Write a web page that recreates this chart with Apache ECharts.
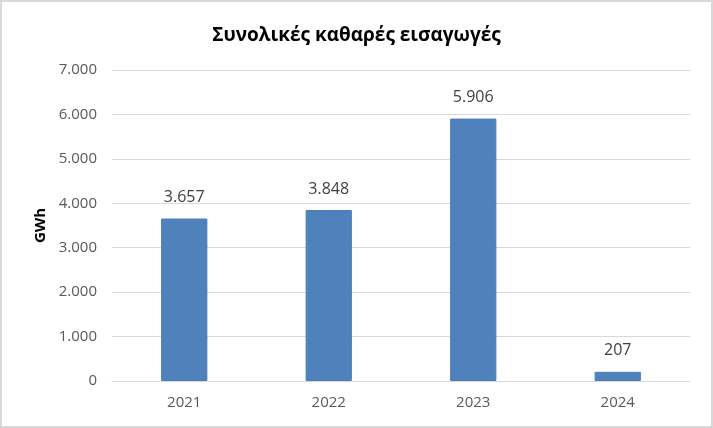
<!DOCTYPE html>
<html>
<head>
<meta charset="utf-8">
<script src="https://cdn.jsdelivr.net/npm/echarts@6/dist/echarts.min.js"></script>
<style>
html,body{margin:0;padding:0;background:#fff;}
#c{width:713px;height:428px;box-sizing:border-box;border:2px solid #D9D9D9;}
</style>
</head>
<body>
<div id="c"></div>
<script>
const categories = ['2021', '2022', '2023', '2024'];
const values = [3657, 3848, 5906, 207];
const yTicks = { min: 0, max: 7000, interval: 1000 };
const titleText = 'Συνολικές καθαρές εισαγωγές';
const yName = 'GWh';

function fmt(v) {
  return String(v).replace(/\B(?=(\d{3})+(?!\d))/g, '.');
}

const chart = echarts.init(document.getElementById('c'), null, { renderer: 'canvas' });
chart.setOption({
  animation: false,
  backgroundColor: '#fff',
  title: {
    text: titleText,
    left: 'center',
    top: 19,
    textStyle: { fontFamily: 'Open Sans', fontSize: 19, fontWeight: 'bold', color: '#000' }
  },
  grid: { left: 110, right: 21, top: 68, bottom: 45 },
  xAxis: {
    type: 'category',
    data: categories,
    axisLine: { lineStyle: { color: '#D9D9D9', width: 1 } },
    axisTick: { show: false },
    axisLabel: { color: '#595959', fontFamily: 'Open Sans', fontSize: 15, margin: 14 }
  },
  yAxis: {
    type: 'value',
    min: yTicks.min,
    max: yTicks.max,
    interval: yTicks.interval,
    name: yName,
    nameLocation: 'middle',
    nameGap: 62,
    nameRotate: 90,
    nameTextStyle: { fontFamily: 'Open Sans', fontSize: 15, fontWeight: 'bold', color: '#000' },
    axisLine: { show: false },
    axisTick: { show: false },
    splitLine: { lineStyle: { color: '#D9D9D9', width: 1 } },
    axisLabel: { color: '#595959', fontFamily: 'Open Sans', fontSize: 15, margin: 15, formatter: fmt }
  },
  series: [{
    type: 'bar',
    data: values,
    barWidth: '32%',
    itemStyle: { color: '#4F81BD', borderColor: '#4A7EBB', borderWidth: 1 },
    label: {
      show: true,
      position: 'top',
      distance: 13,
      color: '#404040',
      fontFamily: 'Open Sans',
      fontSize: 16,
      formatter: p => fmt(p.value)
    }
  }]
});
</script>
</body>
</html>
